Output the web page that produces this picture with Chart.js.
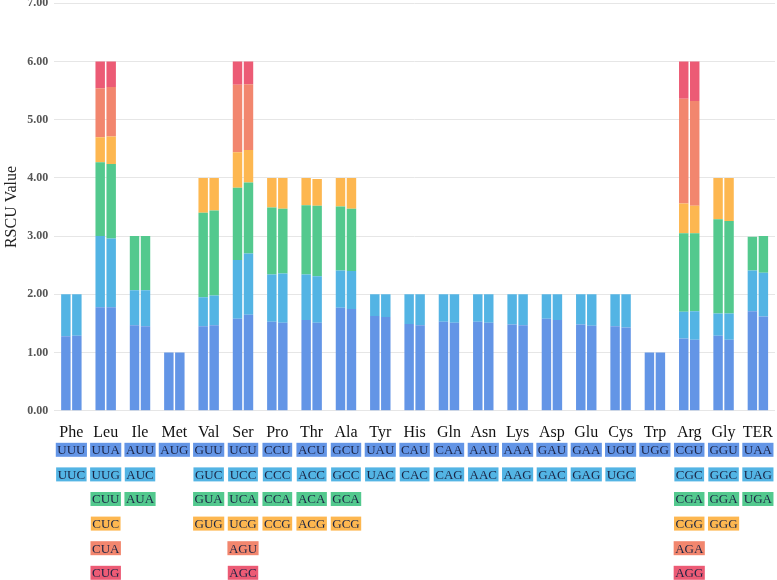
<!DOCTYPE html>
<html>
<head>
<meta charset="utf-8">
<script src="https://cdn.jsdelivr.net/npm/chart.js@4.4.1/dist/chart.umd.min.js"></script>
<style>
  body { margin: 0; background: #fff; overflow: hidden; }
  #wrap { width: 777px; height: 580px; overflow: hidden; }
  #rscu { margin-top: -10px; display: block; }
</style>
</head>
<body>
<div id="wrap"><canvas id="rscu" width="777" height="590"></canvas></div>
<script>
const aminoAcids = ['Phe', 'Leu', 'Ile', 'Met', 'Val', 'Ser', 'Pro', 'Thr', 'Ala', 'Tyr', 'His',
    'Gln', 'Asn', 'Lys', 'Asp', 'Glu', 'Cys', 'Trp', 'Arg', 'Gly', 'TER'];

const codons = [
    ['UUU', 'UUC'],
    ['UUA', 'UUG', 'CUU', 'CUC', 'CUA', 'CUG'],
    ['AUU', 'AUC', 'AUA'],
    ['AUG'],
    ['GUU', 'GUC', 'GUA', 'GUG'],
    ['UCU', 'UCC', 'UCA', 'UCG', 'AGU', 'AGC'],
    ['CCU', 'CCC', 'CCA', 'CCG'],
    ['ACU', 'ACC', 'ACA', 'ACG'],
    ['GCU', 'GCC', 'GCA', 'GCG'],
    ['UAU', 'UAC'],
    ['CAU', 'CAC'],
    ['CAA', 'CAG'],
    ['AAU', 'AAC'],
    ['AAA', 'AAG'],
    ['GAU', 'GAC'],
    ['GAA', 'GAG'],
    ['UGU', 'UGC'],
    ['UGG'],
    ['CGU', 'CGC', 'CGA', 'CGG', 'AGA', 'AGG'],
    ['GGU', 'GGC', 'GGA', 'GGG'],
    ['UAA', 'UAG', 'UGA']
];

// RSCU per codon, same order as codons, first sample (left bar)
const rscuA = [
    [1.28, 0.72],
    [1.78, 1.22, 1.27, 0.43, 0.84, 0.46],
    [1.47, 0.60, 0.93],
    [1.00],
    [1.45, 0.50, 1.45, 0.60],
    [1.58, 1.01, 1.24, 0.61, 1.16, 0.40],
    [1.53, 0.81, 1.15, 0.51],
    [1.56, 0.78, 1.19, 0.47],
    [1.77, 0.64, 1.10, 0.49],
    [1.63, 0.37],
    [1.49, 0.51],
    [1.53, 0.47],
    [1.53, 0.47],
    [1.48, 0.52],
    [1.58, 0.42],
    [1.48, 0.52],
    [1.45, 0.55],
    [1.00],
    [1.24, 0.46, 1.35, 0.51, 1.80, 0.64],
    [1.29, 0.38, 1.62, 0.71],
    [1.71, 0.70, 0.58]
];

// second sample (right bar)
const rscuB = [
    [1.29, 0.71],
    [1.78, 1.18, 1.28, 0.47, 0.85, 0.44],
    [1.45, 0.62, 0.93],
    [1.00],
    [1.47, 0.51, 1.46, 0.56],
    [1.65, 1.05, 1.22, 0.56, 1.13, 0.39],
    [1.51, 0.85, 1.11, 0.53],
    [1.51, 0.80, 1.21, 0.46],
    [1.75, 0.65, 1.07, 0.53],
    [1.61, 0.39],
    [1.47, 0.53],
    [1.51, 0.49],
    [1.51, 0.49],
    [1.47, 0.53],
    [1.56, 0.44],
    [1.46, 0.54],
    [1.43, 0.57],
    [1.00],
    [1.22, 0.49, 1.34, 0.47, 1.80, 0.68],
    [1.22, 0.45, 1.59, 0.74],
    [1.62, 0.75, 0.63]
];

const yTicks = [0, 1, 2, 3, 4, 5, 6, 7];
const layerColors = ['#6395e6', '#53b4e4', '#53c98e', '#fdb750', '#f2866e', '#ec5b75'];

const datasets = [];
for (let k = 0; k < 6; k++) {
    [['A', rscuA], ['B', rscuB]].forEach(([stackId, src]) => {
        datasets.push({
            label: stackId + (k + 1),
            stack: stackId,
            data: src.map(v => (v[k] !== undefined ? v[k] : null)),
            backgroundColor: layerColors[k],
            borderWidth: 0,
            categoryPercentage: 0.64,
            barPercentage: 0.86
        });
    });
}

// codon tags under each amino acid
const codonTags = {
    id: 'codonTags',
    afterDraw(chart) {
        const ctx = chart.ctx;
        const x = chart.scales.x;
        const base = chart.chartArea.bottom;
        ctx.save();
        ctx.font = '13px "Liberation Serif", serif';
        ctx.textAlign = 'center';
        ctx.textBaseline = 'middle';
        codons.forEach((list, i) => {
            const cx = x.getPixelForValue(i);
            list.forEach((c, k) => {
                const cy = base + 39 + k * 24.6;
                const w = ctx.measureText(c).width + 3;
                ctx.fillStyle = layerColors[k];
                ctx.fillRect(cx - w / 2, cy - 7, w, 14);
                ctx.fillStyle = '#1b2444';
                ctx.fillText(c, cx, cy + 1);
            });
        });
        ctx.restore();
    }
};

new Chart(document.getElementById('rscu'), {
    type: 'bar',
    data: { labels: aminoAcids, datasets: datasets },
    plugins: [codonTags],
    options: {
        responsive: false,
        animation: false,
        layout: { padding: { top: 0, right: 0, bottom: 134, left: 0 } },
        plugins: { legend: { display: false }, tooltip: { enabled: false } },
        scales: {
            x: {
                stacked: true,
                grid: { display: false },
                border: { display: false },
                ticks: { color: '#111', padding: 4, autoSkip: false, maxRotation: 0, minRotation: 0,
                    font: { family: '"Liberation Serif", serif', size: 16 } }
            },
            y: {
                stacked: true,
                min: 0,
                max: 7,
                afterBuildTicks: axis => { axis.ticks = yTicks.map(v => ({ value: v })); },
                grid: { color: '#e6e6e6', drawTicks: false },
                border: { display: false },
                title: { display: true, text: 'RSCU Value', color: '#222', padding: { top: 2, bottom: 0 },
                    font: { family: '"Liberation Serif", serif', size: 16 } },
                ticks: { color: '#555', padding: 6, callback: v => v.toFixed(2),
                    font: { family: '"Liberation Serif", serif', size: 12, weight: 'bold' } }
            }
        }
    }
});
</script>
</body>
</html>
